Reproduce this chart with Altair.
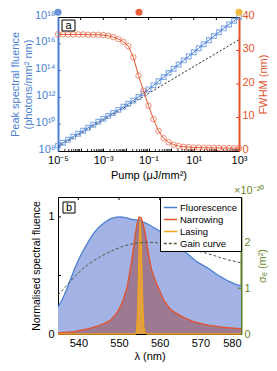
import json
import altair as alt
import pandas as pd

FONT = "Liberation Sans"
BLUE = "#4a7fd0"
RED = "#e2532d"
ORANGE = "#eea321"
GREEN = "#5a7d26"
GREEN_T = "#6a8a2a"
GAIN = "#4a5b3c"
WA, HA = 181, 134
WB, HB = 183, 137

# ---------------- panel a data ----------------
pump_exp = [-5.00, -4.78, -4.56, -4.33, -4.11, -3.89, -3.67, -3.44, -3.22, -3.00,
            -2.78, -2.56, -2.33, -2.11, -1.89, -1.67, -1.44, -1.22, -1.00, -0.78,
            -0.56, -0.33, -0.11, 0.11, 0.33, 0.56, 0.78, 1.00, 1.22, 1.44,
            1.67, 1.89, 2.11, 2.33, 2.56, 2.78, 3.00]
fluence_exp = [8.40, 8.62, 8.84, 9.07, 9.29, 9.51, 9.73, 9.96, 10.18, 10.40,
               10.62, 10.84, 11.07, 11.30, 11.53, 11.77, 12.03, 12.30, 12.60, 12.90,
               13.20, 13.52, 13.83, 14.14, 14.45, 14.76, 15.07, 15.37, 15.67, 15.97,
               16.27, 16.57, 16.86, 17.15, 17.44, 17.72, 18.00]
fwhm_nm = [34.8, 34.8, 34.8, 34.8, 34.8, 34.8, 34.7, 34.7, 34.7, 34.6,
           34.4, 34.0, 33.4, 32.6, 31.3, 28.0, 22.5, 18.0, 13.5, 9.5,
           6.0, 3.8, 2.6, 1.9, 1.5, 1.25, 1.15, 1.05, 1.0, 0.98,
           0.95, 0.93, 0.90, 0.88, 0.87, 0.86, 0.85]
ref_pump_exp = [-5, 3]
ref_fluence_exp = [8.3, 16.3]
marker_pump_exp = [-5, -1.42, 3]
marker_fluence_exp = [18.35, 18.35, 18.35]
marker_level = ["low", "threshold", "high"]

x_tick_exp = [-5, -4, -3, -2, -1, 0, 1, 2, 3]
x_tick_labels = ["10⁻⁵", "", "10⁻³", "", "10⁻¹", "", "10¹", "", "10³"]
x_minor_mult = [2, 3, 4, 5, 6, 7, 8, 9]
y_tick_exp = [8, 10, 12, 14, 16, 18]
y_tick_labels = ["10⁸", "10¹⁰", "10¹²", "10¹⁴", "10¹⁶", "10¹⁸"]
fwhm_ticks = [0, 10, 20, 30, 40]

# ---------------- panel b data ----------------
lam_fl = [535, 536, 537, 538, 539, 540, 541, 542, 543, 544, 545, 546, 547, 548, 549,
          550, 551, 552, 553, 554, 555, 556, 557, 558, 559, 560, 561, 562, 563, 564,
          565, 566, 567, 568, 569, 570, 571, 572, 573, 574, 575, 576, 577, 578, 579, 580]
fl = [0.23, 0.29, 0.37, 0.46, 0.55, 0.63, 0.70, 0.76, 0.82, 0.87, 0.91, 0.94, 0.965, 0.985, 0.995,
      1.0, 0.998, 0.99, 0.98, 0.975, 0.97, 0.955, 0.94, 0.92, 0.90, 0.88, 0.855, 0.83, 0.80, 0.77,
      0.74, 0.71, 0.68, 0.65, 0.62, 0.60, 0.58, 0.56, 0.535, 0.51, 0.49, 0.47, 0.45, 0.435, 0.42, 0.41]
lam_nar = [535, 537, 539, 541, 543, 545, 546, 547, 548, 549, 550, 551, 552, 553, 553.5,
           554, 554.5, 555, 555.5, 556, 556.5, 557, 557.5, 558, 559, 560, 561, 562, 563,
           564, 566, 568, 570, 572, 574, 576, 578, 580]
nar = [0.01, 0.015, 0.02, 0.035, 0.05, 0.07, 0.085, 0.10, 0.12, 0.16, 0.21, 0.29, 0.40, 0.60, 0.72,
       0.85, 0.95, 1.0, 0.99, 0.93, 0.85, 0.74, 0.64, 0.55, 0.45, 0.37, 0.29, 0.24, 0.20,
       0.18, 0.14, 0.11, 0.09, 0.075, 0.065, 0.055, 0.05, 0.045]
lam_las = [535, 554, 554.3, 554.6, 554.9, 555.2, 555.5, 555.8, 556.1, 556.4, 557, 580]
las = [0, 0, 0.02, 0.2, 0.7, 0.97, 0.75, 0.3, 0.06, 0.01, 0, 0]
lam_gain = [535, 537, 539, 541, 543, 545, 547, 549, 551, 553, 555, 557, 559, 561, 563,
            565, 567, 569, 571, 573, 575, 577, 579, 580]
gain = [0.85, 1.05, 1.25, 1.42, 1.56, 1.67, 1.77, 1.85, 1.92, 1.97, 2.0, 2.01, 2.0, 1.98, 1.95,
        1.92, 1.88, 1.83, 1.78, 1.73, 1.67, 1.62, 1.58, 1.56]
series_names = ["Fluorescence", "Narrowing", "Lasing", "Gain curve"]
lam_ticks = [540, 550, 560, 570, 580]
norm_ticks = [0, 0.5, 1]
gain_ticks = [0, 1, 2]

# ---------------- frames ----------------
dfa = pd.DataFrame({"pump": [10 ** e for e in pump_exp],
                    "fluence": [10 ** e for e in fluence_exp],
                    "fwhm": fwhm_nm})
dfref = pd.DataFrame({"pump": [10 ** e for e in ref_pump_exp],
                      "fluence": [10 ** e for e in ref_fluence_exp]})
dfmark = pd.DataFrame({"pump": [10 ** e for e in marker_pump_exp],
                       "fluence": [10 ** e for e in marker_fluence_exp],
                       "level": marker_level})
tk_top_a = pd.DataFrame({"pump": [10 ** e for e in x_tick_exp[1:-1]]})
tk_minor_a = pd.DataFrame({"pump": [m * 10 ** e for e in x_tick_exp[:-1] for m in x_minor_mult]})
tk_left_a = pd.DataFrame({"fluence": [10 ** e for e in y_tick_exp[1:-1]]})
tk_right_a = pd.DataFrame({"fwhm": fwhm_ticks[1:-1]})

dfb = pd.concat([
    pd.DataFrame({"lam": lam_fl, "val": fl, "series": "Fluorescence"}),
    pd.DataFrame({"lam": lam_nar, "val": nar, "series": "Narrowing"}),
    pd.DataFrame({"lam": lam_las, "val": las, "series": "Lasing"}),
], ignore_index=True)
dfg = pd.DataFrame({"lam": lam_gain, "gain": gain, "series": "Gain curve"})
tk_top_b = pd.DataFrame({"lam": lam_ticks[:-1]})
tk_left_b = pd.DataFrame({"val": norm_ticks[1:]})
tk_right_b = pd.DataFrame({"gain": gain_ticks[1:]})

one = alt.Data(values=[{}])

# ---------------- panel a ----------------
xa = alt.X("pump:Q",
           scale=alt.Scale(type="log", domain=[1e-5, 1e3], nice=False),
           axis=alt.Axis(values=[10 ** e for e in x_tick_exp],
                         labelExpr=json.dumps(x_tick_labels, ensure_ascii=False)
                         + "[round(log(datum.value)/LN10)+5]",
                         title="Pump (μJ/mm²)", offset=-3, tickSize=3, domain=False,
                         labelPadding=3, tickColor="black", labelColor="black",
                         labelFlush=False, titleBaseline="alphabetic", titleY=30))
ya = alt.Y("fluence:Q",
           scale=alt.Scale(type="log", domain=[1e8, 1e18], nice=False),
           axis=alt.Axis(orient="left", values=[10 ** e for e in y_tick_exp],
                         labelExpr=json.dumps(y_tick_labels, ensure_ascii=False)
                         + "[round(log(datum.value)/LN10/2)-4]",
                         title=["Peak spectral fluence", "(photons/mm² nm)"],
                         titleColor=BLUE, labelColor=BLUE, domainColor=BLUE,
                         domainWidth=2, tickSize=0, labelPadding=3, titlePadding=1,
                         labelOffset=-2, labelFlush=False))
ya_r = alt.Y("fwhm:Q",
             scale=alt.Scale(domain=[0, 40], nice=False),
             axis=alt.Axis(orient="right", values=fwhm_ticks, title="FWHM (nm)",
                           titleAngle=270, titleBaseline="top", titleColor=RED,
                           labelColor=RED, domainColor=RED, domainWidth=2, tickSize=0,
                           labelPadding=3, titlePadding=3, labelOffset=-2,
                           labelFlush=False))

ref_line = alt.Chart(dfref).mark_line(color="#222222", strokeWidth=1,
                                      strokeDash=[2, 2]).encode(x=xa, y=ya)
blue_line = alt.Chart(dfa).mark_line(color="#3f72c8", strokeWidth=1).encode(x=xa, y=ya)
blue_pts = alt.Chart(dfa).mark_point(shape="square", filled=False, color="#5b8fdd",
                                     strokeWidth=1.2, size=22).encode(x=xa, y=ya)
markers = alt.Chart(dfmark).mark_point(filled=True, size=50, opacity=1).encode(
    x=xa, y=ya,
    color=alt.Color("level:N", legend=None,
                    scale=alt.Scale(domain=marker_level,
                                    range=["#6a92dc", "#e8603c", "#f2bb44"])))
top_a = alt.Chart(tk_top_a).mark_rule(color="black", strokeWidth=1).encode(
    x=xa, y=alt.value(0), y2=alt.value(3))
minor_a = alt.Chart(tk_minor_a).mark_rule(color="black", strokeWidth=0.8).encode(
    x=xa, y=alt.value(HA), y2=alt.value(HA - 2))
left_a = alt.Chart(tk_left_a).mark_rule(color=BLUE, strokeWidth=1).encode(
    y=ya, x=alt.value(0), x2=alt.value(3))
red_line = alt.Chart(dfa).mark_line(color=RED, strokeWidth=1).encode(x=xa, y=ya_r)
red_pts = alt.Chart(dfa).mark_point(shape="circle", filled=False, color="#e8603c",
                                    strokeWidth=1, size=30).encode(x=xa, y=ya_r)
right_a = alt.Chart(tk_right_a).mark_rule(color=RED, strokeWidth=1).encode(
    y=ya_r, x=alt.value(WA), x2=alt.value(WA - 3))

box_a = alt.Chart(one).mark_rect(fill="white", stroke="black", strokeWidth=1).encode(
    x=alt.value(4), x2=alt.value(17), y=alt.value(3), y2=alt.value(14))
txt_a = alt.Chart(one).mark_text(text="a", fontSize=11, font=FONT, baseline="middle",
                                 align="center").encode(x=alt.value(10.5), y=alt.value(8.5))

panel_a = alt.layer(
    alt.layer(top_a, minor_a, left_a, ref_line, blue_line, blue_pts, markers),
    alt.layer(right_a, red_line, red_pts),
    box_a, txt_a,
).resolve_scale(y="independent").properties(width=WA, height=HA)

# ---------------- panel b ----------------
xb = alt.X("lam:Q", scale=alt.Scale(domain=[535, 580], nice=False),
           axis=alt.Axis(values=lam_ticks, title="λ (nm)", offset=-3,
                         tickSize=3, domain=False, labelPadding=3, tickColor="black",
                         titleBaseline="alphabetic", titleY=28))
yb = alt.Y("val:Q", scale=alt.Scale(domain=[0, 1.17], nice=False),
           axis=alt.Axis(values=norm_ticks,
                         labelExpr="datum.value == 0.5 ? '' : format(datum.value, '~g')",
                         title="Normalised spectral fluence", domain=False,
                         tickSize=0, labelPadding=4, titlePadding=6, titleFontSize=10.5,
                         labelFlush=False))
yb_r = alt.Y("gain:Q", scale=alt.Scale(domain=[0, 3], nice=False),
             axis=alt.Axis(orient="right", values=gain_ticks, title="σₑ (m²)",
                           titleAngle=270, titleBaseline="top", domainColor=GREEN,
                           domainWidth=2, labelColor=GREEN_T, titleColor=GREEN_T,
                           tickSize=0, labelPadding=3, titlePadding=6, labelFlush=False))

col = alt.Color("series:N", title=None,
                scale=alt.Scale(domain=series_names, range=[BLUE, RED, ORANGE, GAIN]),
                legend=alt.Legend(orient="top-right", offset=0, padding=3,
                                  strokeColor="black", fillColor="white",
                                  symbolType="stroke", symbolSize=180,
                                  symbolStrokeWidth=1.3, labelFontSize=9.5,
                                  labelFont=FONT, rowPadding=0, labelOffset=2,
                                  cornerRadius=0))
dash = alt.StrokeDash("series:N", title=None,
                      scale=alt.Scale(domain=series_names,
                                      range=[[1, 0], [1, 0], [1, 0], [3, 2]]))

fl_area = alt.Chart(dfb).transform_filter("datum.series == 'Fluorescence'").mark_area(
    color="#a3b3e5", opacity=1).encode(x=xb, y=yb)
nar_area = alt.Chart(dfb).transform_filter("datum.series == 'Narrowing'").mark_area(
    color="#9a4040", opacity=0.5).encode(x=xb, y=yb)
las_area = alt.Chart(dfb).transform_filter("datum.series == 'Lasing'").mark_area(
    color="#f0a830", opacity=0.85).encode(x=xb, y=yb)
lines_b = alt.Chart(dfb).mark_line(strokeWidth=1.3).encode(
    x=xb, y=yb, color=col, strokeDash=dash, detail="series:N")
top_b = alt.Chart(tk_top_b).mark_rule(color="black", strokeWidth=1).encode(
    x=xb, y=alt.value(0), y2=alt.value(3))
left_b = alt.Chart(tk_left_b).mark_rule(color="black", strokeWidth=1).encode(
    y=yb, x=alt.value(0), x2=alt.value(3))
gain_line = alt.Chart(dfg).mark_line(strokeWidth=1).encode(
    x=xb, y=yb_r, color=col, strokeDash=dash)
right_b = alt.Chart(tk_right_b).mark_rule(color=GREEN, strokeWidth=1).encode(
    y=yb_r, x=alt.value(WB), x2=alt.value(WB - 3))

box_b = alt.Chart(one).mark_rect(fill="white", stroke="black", strokeWidth=1).encode(
    x=alt.value(5), x2=alt.value(17), y=alt.value(5), y2=alt.value(16))
txt_b = alt.Chart(one).mark_text(text="b", fontSize=11, font=FONT, baseline="middle",
                                 align="center").encode(x=alt.value(11), y=alt.value(10.5))
exp_b = alt.Chart(one).mark_text(text="×10⁻²⁰", fontSize=11, font=FONT,
                                 baseline="alphabetic", align="left",
                                 color=GREEN_T).encode(x=alt.value(176), y=alt.value(-3))

panel_b = alt.layer(
    alt.layer(fl_area, nar_area, las_area, lines_b, top_b, left_b),
    alt.layer(gain_line, right_b),
    box_b, txt_b, exp_b,
).resolve_scale(y="independent").properties(width=WB, height=HB)

chart = alt.vconcat(panel_a, panel_b, spacing=3).resolve_scale(
    color="independent", strokeDash="independent"
).properties(
    padding={"left": 0, "top": 0, "right": 0, "bottom": 0}
).configure_view(stroke="black", strokeWidth=1).configure_axis(
    labelFont=FONT, titleFont=FONT, labelFontSize=11, titleFontSize=11,
    grid=False, titleFontWeight="normal"
).configure_text(font=FONT)

chart.save("out.html", embed_options={"renderer": "svg", "actions": False})
